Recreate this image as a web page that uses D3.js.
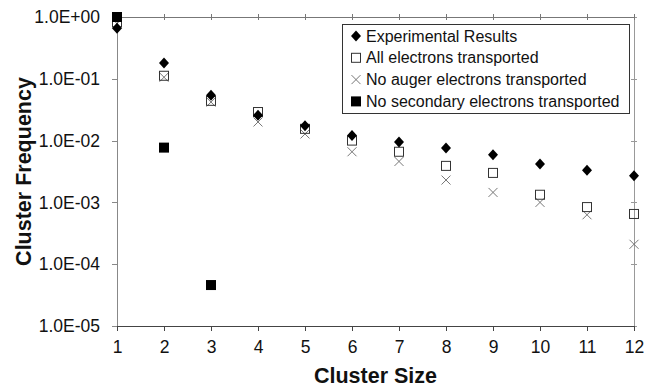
<!DOCTYPE html>
<html>
<head>
<meta charset="utf-8">
<script src="https://cdn.jsdelivr.net/npm/d3@7"></script>
<style>
  body { margin: 0; background: #fff; }
  svg { display: block; font-family: "Liberation Sans", Arial, sans-serif; }
  .axis path, .axis line { shape-rendering: crispEdges; }
</style>
</head>
<body>
<svg id="chart"></svg>
<script>
// Cluster sizes and frequencies
const clusterSizes = [1, 2, 3, 4, 5, 6, 7, 8, 9, 10, 11, 12];
const experimental = [0.66, 0.18, 0.054, 0.0256, 0.0174, 0.0121, 0.0095, 0.0076, 0.0059, 0.0042, 0.0033, 0.0027];
const allElectrons = [0.82, 0.112, 0.044, 0.029, 0.0155, 0.010, 0.0066, 0.0039, 0.0030, 0.00133, 0.00084, 0.00065];
const noAuger = [0.78, 0.106, 0.042, 0.020, 0.0128, 0.0066, 0.0046, 0.0023, 0.00145, 0.00100, 0.00063, 0.00021];
const noSecondarySizes = [1, 2, 3];
const noSecondary = [1.0, 0.0077, 0.000046];
const yTicks = [1, 1e-1, 1e-2, 1e-3, 1e-4, 1e-5];
const seriesNames = [
    'Experimental Results',
    'All electrons transported',
    'No auger electrons transported',
    'No secondary electrons transported'
];

const width = 648, height = 387;
const margin = { top: 17, right: 14, bottom: 61, left: 117 };
const innerW = width - margin.left - margin.right;
const innerH = height - margin.top - margin.bottom;

const svg = d3.select('#chart').attr('width', width).attr('height', height);
const g = svg.append('g').attr('transform', `translate(${margin.left},${margin.top})`);

const x = d3.scaleLinear().domain([1, 12]).range([0, innerW]);
const y = d3.scaleLog().domain([1e-5, 1]).range([innerH, 0]);

// 1.0E+00 style labels
const sciFormat = d => {
    const e = Math.round(Math.log10(d));
    const sign = e < 0 ? '-' : '+';
    return '1.0E' + sign + String(Math.abs(e)).padStart(2, '0');
};

// Left axis
const yAxis = g.append('g').attr('class', 'axis')
    .call(d3.axisLeft(y).tickValues(yTicks).tickFormat(sciFormat).tickSize(5).tickPadding(12));
yAxis.selectAll('path, line').attr('stroke', '#888');
yAxis.selectAll('text').attr('font-size', 17.5).attr('fill', '#111')
    .attr('font-family', '"Liberation Sans", Arial, sans-serif');

// Right axis with crossing ticks
[d3.axisLeft, d3.axisRight].forEach(fn => {
    const a = g.append('g').attr('class', 'axis')
        .attr('transform', `translate(${innerW},0)`)
        .call(fn(y).tickValues(yTicks).tickFormat('').tickSize(3).tickSizeOuter(0));
    a.selectAll('path, line').attr('stroke', '#999');
});

// Top axis with crossing ticks
[d3.axisTop, d3.axisBottom].forEach(fn => {
    const a = g.append('g').attr('class', 'axis')
        .call(fn(x).tickValues(clusterSizes).tickFormat('').tickSize(3).tickSizeOuter(0));
    a.selectAll('path, line').attr('stroke', '#777');
});

// Bottom axis
const xAxis = g.append('g').attr('class', 'axis')
    .attr('transform', `translate(0,${innerH})`)
    .call(d3.axisBottom(x).tickValues(clusterSizes).tickFormat(d3.format('d')).tickSize(5).tickSizeOuter(0).tickPadding(10));
xAxis.selectAll('path, line').attr('stroke', '#444');
xAxis.selectAll('text').attr('font-size', 17.5).attr('fill', '#111')
    .attr('font-family', '"Liberation Sans", Arial, sans-serif');

// Axis titles
svg.append('text')
    .attr('x', margin.left + innerW / 2)
    .attr('y', 383)
    .attr('text-anchor', 'middle')
    .attr('font-size', 21.5)
    .attr('font-weight', 'bold')
    .attr('fill', '#111')
    .text('Cluster Size');

svg.append('text')
    .attr('transform', `translate(31,${margin.top + innerH / 2}) rotate(-90)`)
    .attr('text-anchor', 'middle')
    .attr('font-size', 21.5)
    .attr('font-weight', 'bold')
    .attr('fill', '#111')
    .text('Cluster Frequency');

// Marker drawing helpers
const markers = {
    diamond: (sel) => sel.append('path')
        .attr('d', 'M0,-5.5 L5,0 L0,5.5 L-5,0 Z')
        .attr('fill', '#000'),
    openSquare: (sel) => sel.append('rect')
        .attr('x', -4.5).attr('y', -4.5).attr('width', 9).attr('height', 9)
        .attr('fill', 'none').attr('stroke', '#333').attr('stroke-width', 1),
    cross: (sel) => sel.append('path')
        .attr('d', 'M-4.5,-4.5 L4.5,4.5 M-4.5,4.5 L4.5,-4.5')
        .attr('fill', 'none').attr('stroke', '#777').attr('stroke-width', 1),
    filledSquare: (sel) => sel.append('rect')
        .attr('x', -5).attr('y', -5).attr('width', 10).attr('height', 10)
        .attr('fill', '#000')
};

const series = [
    { name: seriesNames[0], xs: clusterSizes, ys: experimental, marker: 'diamond' },
    { name: seriesNames[1], xs: clusterSizes, ys: allElectrons, marker: 'openSquare' },
    { name: seriesNames[2], xs: clusterSizes, ys: noAuger, marker: 'cross' },
    { name: seriesNames[3], xs: noSecondarySizes, ys: noSecondary, marker: 'filledSquare' }
];

// Draw in reverse so experimental diamonds sit on top except the filled square at 1
const drawOrder = [2, 1, 0, 3];
drawOrder.forEach(i => {
    const s = series[i];
    const pts = s.xs.map((v, j) => ({ x: v, y: s.ys[j] }));
    g.append('g').selectAll('g')
        .data(pts)
        .enter()
        .append('g')
        .attr('transform', d => `translate(${x(d.x)},${y(d.y)})`)
        .call(markers[s.marker]);
});

// Legend
const legend = svg.append('g').attr('transform', 'translate(342,24)');
legend.append('rect')
    .attr('width', 287).attr('height', 89)
    .attr('fill', '#fff').attr('stroke', '#333').attr('stroke-width', 1)
    .attr('shape-rendering', 'crispEdges');

series.forEach((s, i) => {
    const row = legend.append('g').attr('transform', `translate(0,${12 + i * 21.8})`);
    row.append('g').attr('transform', 'translate(14,0)').call(markers[s.marker]);
    row.append('text')
        .attr('x', 24)
        .attr('y', 5.5)
        .attr('font-size', 16)
        .attr('fill', '#111')
        .text(s.name);
});
</script>
</body>
</html>
